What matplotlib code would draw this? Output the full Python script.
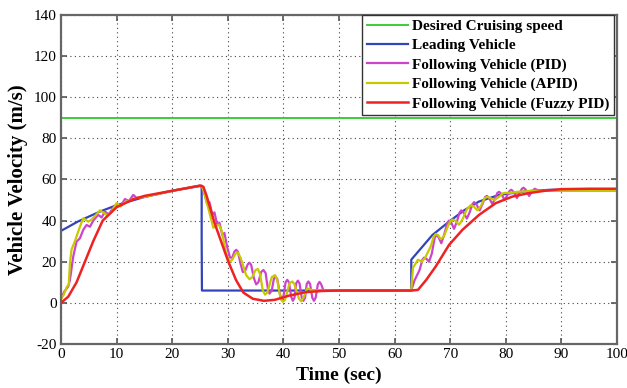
import matplotlib
matplotlib.use("Agg")
import matplotlib.pyplot as plt

# ---- data ----
t_des = [0, 100]
v_des = [90, 90]

t_lead = [0, 3, 7, 10, 15, 20, 25.3, 25.3, 25.35, 63, 63, 66.8, 69.8, 72.5, 75.2, 78.8, 83.6, 88, 100]
v_lead = [35, 39.5, 44.4, 47.5, 51.5, 54.5, 57, 31, 6, 6, 21, 33, 39.5, 45, 49.3, 52.5, 54.3, 55, 55]

t_pid = [0, 0.6, 1.3, 1.6, 2.2, 2.8, 3.4, 4.0, 4.6, 5.2, 5.8, 6.7, 7.3, 7.9, 8.6, 9.3, 10, 10.7,
         11.5, 12.2, 13, 13.6, 15, 20, 25, 25.6, 26.3, 26.7, 27.2, 27.6, 28.1, 28.5, 29.0, 29.4,
         29.9, 30.4, 30.8, 31.2, 31.5, 31.8, 32.3, 32.7, 33.1, 33.6, 33.9, 34.2, 34.7, 35.1, 35.5,
         36.0, 36.4, 36.8, 37.2, 37.5, 37.9, 38.3, 38.6, 38.9, 39.4, 39.7, 40.0, 40.4, 40.7, 41.0,
         41.4, 41.7, 42.0, 42.3, 42.6, 42.9, 43.3, 43.6, 43.9, 44.2, 44.5, 44.8, 45.2, 45.5, 45.8,
         46.2, 46.5, 46.8, 47.2, 50,
         63, 63.6, 64.5, 65.0, 65.3, 65.7, 66.2, 66.7, 67.2, 67.5, 67.9, 68.4, 68.9, 69.5, 69.8,
         70.2, 70.7, 71.2, 71.7, 72.0, 72.4, 73.0, 73.5, 74.0, 74.3, 74.7, 75.3, 75.8, 76.3, 76.6,
         77.0, 77.6, 78.1, 78.5, 78.8, 79.2, 79.8, 80.3, 80.7, 81.0, 81.4, 82.0, 82.5, 82.9, 83.2,
         83.6, 84.2, 84.7, 85.2, 86.0, 90, 100]
v_pid = [2, 5.5, 8, 11, 22.5, 29.8, 31.4, 35.5, 37.9, 37, 40, 42.8, 41.5, 44.4, 43, 46, 48, 47,
         50.5, 49.5, 52.5, 51, 51.5, 54.5, 57, 55, 48, 49, 43, 44, 38, 39, 33, 34,
         27, 22, 22, 25, 25.8, 25, 19, 15, 15.5, 18.8, 19.5, 18.5, 12, 9, 10,
         15, 16, 14.5, 7, 4.5, 6, 11.8, 12.8, 11.5, 4, 1.5, 3, 10, 11.2, 10,
         3, 1, 2.5, 9.5, 10.8, 9.5, 2.5, 1, 2.5, 9.2, 10.4, 9.2, 2.5, 1, 2.5,
         9, 10.2, 9, 6, 6,
         6, 11, 16, 21, 22, 21.5, 20, 24, 31.5, 33, 32, 29, 33, 39, 40,
         39, 36, 39.5, 44, 45, 44, 41, 44, 48, 49, 48, 45, 48, 51.5, 52,
         51, 48, 51, 53.5, 54, 53, 50, 52.5, 54.5, 55, 54, 51, 53.5, 55.5, 56,
         55, 52, 54, 55.5, 54.5, 54.5, 54.5]

t_apid = [0, 0.5, 1.0, 1.4, 1.6, 1.9, 2.5, 3.4, 4.0, 4.9, 5.5, 6.2, 7.0, 7.6, 8.3, 9.0, 10, 10.8,
          11.5, 12.5, 13.5, 15, 20, 25, 25.5, 26.4, 27.4, 27.9, 28.4, 28.9, 29.7, 30.3, 30.8, 31.4,
          31.8, 32.3, 33.3, 33.9, 34.4, 35.0, 35.4, 35.8, 36.3, 36.7, 37.1, 37.9, 38.5, 38.9, 39.5,
          39.9, 40.3, 41.1, 41.6, 42.0, 42.8, 43.2, 43.6, 44.3, 44.8, 45.5, 50,
          63, 63.3, 64.2, 64.9, 65.5, 66.5, 67.0, 67.4, 67.8, 68.3, 68.8, 69.7, 70.1, 70.5, 70.9,
          71.6, 72.2, 73.0, 73.7, 74.2, 74.9, 75.5, 76.2, 76.7, 77.2, 78.0, 78.7, 79.5, 80, 81,
          82, 85, 90, 100]
v_apid = [2, 4, 7.5, 9, 19, 26, 30, 37, 41.2, 39.5, 40.5, 42.5, 45, 44, 42.5, 44, 48.5, 47,
          49, 50, 51, 51.5, 54.5, 57, 56, 47, 36.5, 37.5, 38, 35, 24, 20, 21, 24,
          24.5, 22, 13.5, 11.5, 12.5, 16, 16.5, 14, 6, 4, 5, 12.5, 13.5, 11, 2,
          0.5, 1.5, 9.5, 10.4, 9, 2, 0.8, 2.5, 7, 6.5, 6, 6,
          6, 17, 21, 20, 22, 27.4, 32, 33.5, 33, 31, 32, 38, 40, 40.5, 40,
          38, 40.5, 45.5, 47.5, 47, 45, 47, 51, 51.5, 51, 50, 51.5, 53.3, 53.5, 53.5,
          54, 54.5, 54.5, 54.5]

t_fuzzy = [0, 1.3, 2.8, 4.3, 5.8, 7.5, 10, 13, 15, 20, 25, 25.6, 26.2, 27.6, 30.1, 31.5, 32.8,
           34.5, 36.5, 38.5, 41, 44, 47, 50, 55, 63, 64.2, 65.7, 67.4, 69.8, 72.2, 75.2, 78.2,
           81.2, 84.2, 87, 90, 95, 100]
v_fuzzy = [0, 3, 10, 20, 30, 40, 46.5, 50.4, 52, 54.5, 57, 56.5, 52, 39, 20, 11, 5,
           2, 1, 1.5, 3.5, 5.2, 5.8, 6, 6, 6, 6.3, 11.2, 17.7, 28.2, 35.5, 42.8, 48.5,
           51.7, 53.4, 54.5, 55.3, 55.5, 55.5]

labels = ["Desired Cruising speed", "Leading Vehicle", "Following Vehicle (PID)",
          "Following Vehicle (APID)", "Following Vehicle (Fuzzy PID)"]
colors = ["#3ccc3c", "#3344bb", "#cc44cc", "#c8c800", "#ee2222"]

x_ticks = list(range(0, 101, 10))
y_ticks = list(range(-20, 141, 20))

plt.rcParams['font.family'] = ['Liberation Serif', 'DejaVu Serif']
plt.rcParams['axes.unicode_minus'] = False

fig = plt.figure(figsize=(6.27, 3.88), dpi=100)
ax = fig.add_axes([0.0973, 0.1134, 0.8867, 0.848])

series = [(t_des, v_des), (t_lead, v_lead), (t_pid, v_pid), (t_apid, v_apid), (t_fuzzy, v_fuzzy)]
widths = [1.4, 1.6, 1.6, 1.6, 1.8]
for (tt, vv), c, lab, lw in zip(series, colors, labels, widths):
    ax.plot(tt, vv, color=c, lw=lw, label=lab, solid_joinstyle='round')

ax.set_xlim(0, 100)
ax.set_ylim(-20, 140)
ax.set_xticks(x_ticks)
ax.set_yticks(y_ticks)
ax.tick_params(direction='in', top=True, right=True, length=4, width=1.2,
               color='#555555', labelsize=11, pad=3)
ax.grid(True, linestyle=(0, (1, 3)), color='#444444', lw=0.8)
for s in ax.spines.values():
    s.set_color('#666666')
    s.set_linewidth(1.6)

ax.set_xlabel("Time (sec)", fontsize=14, fontweight='bold', labelpad=4)
ax.set_ylabel("Vehicle Velocity (m/s)", fontsize=15, fontweight='bold', labelpad=4)

leg = ax.legend(loc='upper right', bbox_to_anchor=(0.994, 1.0),
                prop={'weight': 'bold', 'size': 11}, handlelength=2.7, handletextpad=0.25,
                borderpad=0.3, labelspacing=0.36, fancybox=False, framealpha=1,
                borderaxespad=0)
leg.get_frame().set_edgecolor('#333333')
leg.get_frame().set_linewidth(1.0)

fig.savefig("out.png", dpi=100)
